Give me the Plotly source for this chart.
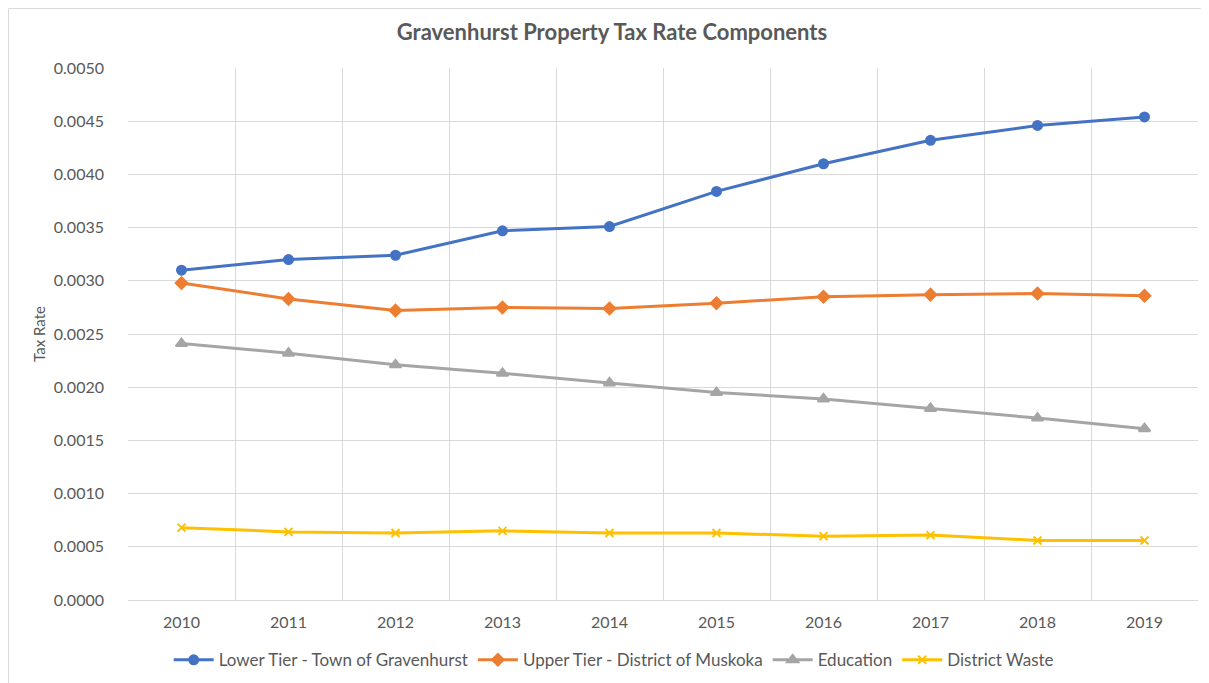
import plotly.graph_objects as go

years = ["2010", "2011", "2012", "2013", "2014", "2015", "2016", "2017", "2018", "2019"]
lower_tier = [0.00310, 0.00320, 0.00324, 0.00347, 0.00351, 0.00384, 0.00410, 0.00432, 0.00446, 0.00454]
upper_tier = [0.00298, 0.00283, 0.00272, 0.00275, 0.00274, 0.00279, 0.00285, 0.00287, 0.00288, 0.00286]
education = [0.00241, 0.00232, 0.00221, 0.00213, 0.00204, 0.00195, 0.00189, 0.00180, 0.00171, 0.00161]
district_waste = [0.00068, 0.00064, 0.00063, 0.00065, 0.00063, 0.00063, 0.00060, 0.00061, 0.00056, 0.00056]

series = [
    ("Lower Tier - Town of Gravenhurst", lower_tier, "#4472C4", "circle", 9),
    ("Upper Tier - District of Muskoka", upper_tier, "#ED7D31", "diamond", 9),
    ("Education", education, "#A5A5A5", "triangle-up", 10),
    ("District Waste", district_waste, "#FFC000", "x-thin", 8),
]

fig = go.Figure()
for name, vals, color, sym, sz in series:
    fig.add_trace(go.Scatter(
        x=years, y=vals, name=name, mode="lines+markers",
        line=dict(color=color, width=3),
        marker=dict(symbol=sym, size=sz, color=color,
                    line=dict(color=color, width=2)),
    ))

font_family = "Lato, 'Open Sans', sans-serif"
fig.update_layout(
    width=1209, height=683,
    margin=dict(l=120, r=19, t=60, b=91, autoexpand=False),
    paper_bgcolor="white", plot_bgcolor="white",
    font=dict(family=font_family, color="#595959", size=16),
    title=dict(text="<b>Gravenhurst Property Tax Rate Components</b>",
               x=0.4996, xref="container", xanchor="center",
               y=0.965, yref="container", yanchor="middle",
               font=dict(size=22, color="#595959", family=font_family)),
    legend=dict(orientation="h", x=0.501, xanchor="center", xref="container",
                y=0.045, yref="container", yanchor="middle",
                font=dict(size=17, color="#595959"), itemwidth=40,
                tracegroupgap=0),
    showlegend=True,
)
fig.update_xaxes(
    type="category", range=[-0.5, 9.5], tickson="boundaries", showgrid=True,
    gridcolor="#D9D9D9", gridwidth=1, showline=True, linecolor="#D9D9D9",
    linewidth=1, ticks="", ticklabelstandoff=8,
    tickfont=dict(size=16, color="#595959"), mirror=False, automargin=False,
)
fig.update_yaxes(
    range=[0, 0.005], dtick=0.0005, tickformat=".4f", showgrid=True,
    gridcolor="#D9D9D9", gridwidth=1, zeroline=False, showline=False,
    ticks="", ticklabelstandoff=23, tickfont=dict(size=16, color="#595959"),
    title=dict(text="Tax Rate", font=dict(size=15, color="#595959"), standoff=4),
    automargin=False,
)
# chart-area border (top and left edges visible in the reference)
fig.add_shape(type="line", xref="paper", yref="paper",
              x0=-119.5 / 1070, x1=1 + 19 / 1070, y0=1 + 59.5 / 532, y1=1 + 59.5 / 532,
              line=dict(color="#D9D9D9", width=1), layer="below")
fig.add_shape(type="line", xref="paper", yref="paper",
              x0=-119.5 / 1070, x1=-119.5 / 1070, y0=-91 / 532, y1=1 + 59.5 / 532,
              line=dict(color="#D9D9D9", width=1), layer="below")

fig.write_html("out.html")
